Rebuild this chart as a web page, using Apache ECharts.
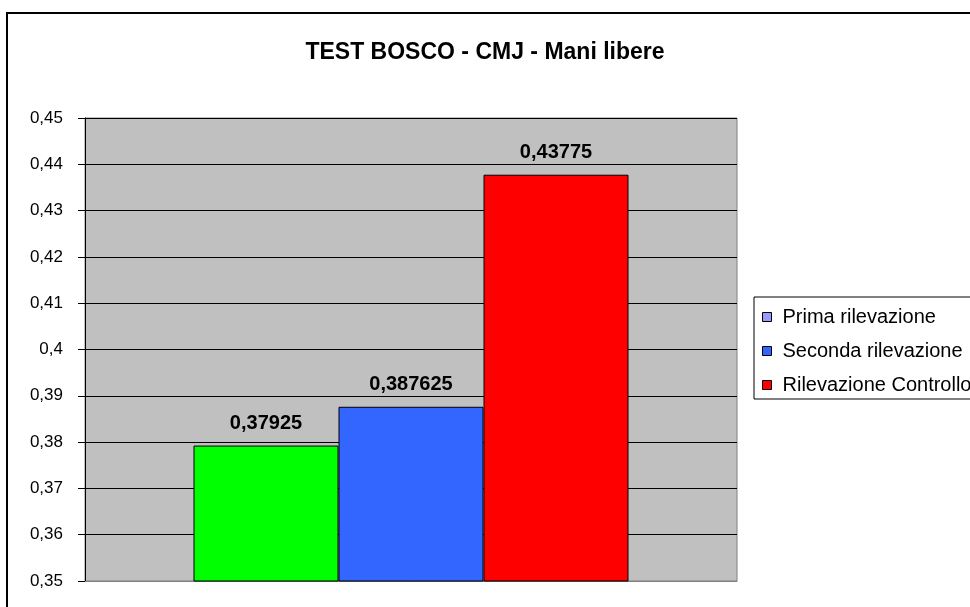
<!DOCTYPE html>
<html>
<head>
<meta charset="utf-8">
<script src="https://cdn.jsdelivr.net/npm/echarts@6/dist/echarts.min.js"></script>
<style>
  html, body { margin: 0; padding: 0; background: #fff; }
  #main { width: 970px; height: 607px; }
</style>
</head>
<body>
<div id="main"></div>
<script>
var categories = [''];
var seriesNames = ['Prima rilevazione', 'Seconda rilevazione', 'Rilevazione Controllo'];
var seriesValues = [[0.37925], [0.387625], [0.43775]];
var barColors = ['#00FF00', '#3366FF', '#FF0000'];
var legendColors = ['#9999FF', '#3366FF', '#FF0000'];

// numero con la virgola decimale
function comma(v) {
  return String(parseFloat(Number(v).toFixed(6))).replace('.', ',');
}

var myChart = echarts.init(document.getElementById('main'));

var series = seriesNames.map(function (name, i) {
  return {
    name: name,
    type: 'bar',
    data: seriesValues[i],
    barWidth: 145,
    barGap: '0%',
    itemStyle: { color: barColors[i], borderColor: '#000', borderWidth: 1 },
    label: {
      show: true,
      position: 'top',
      distance: 12,
      color: '#000',
      fontFamily: 'Liberation Sans, Arial',
      fontWeight: 'bold',
      fontSize: 20,
      formatter: function (p) { return comma(p.value); }
    }
  };
});

var option = {
  animation: false,
  title: {
    text: 'TEST BOSCO - CMJ - Mani libere',
    left: 'center',
    top: 36,
    textStyle: { fontFamily: 'Liberation Sans, Arial', fontWeight: 'bold', fontSize: 23, color: '#000' }
  },
  legend: {
    orient: 'vertical',
    left: 754,
    top: 297,
    padding: [10, 40, 4, 8],
    itemWidth: 9,
    itemHeight: 9,
    itemGap: 14,
    icon: 'rect',
    borderColor: '#000',
    borderWidth: 1,
    textStyle: { fontFamily: 'Liberation Sans, Arial', fontSize: 20, color: '#000', padding: [0, 0, 0, 6] },
    data: seriesNames.map(function (n, i) {
      return { name: n, itemStyle: { color: legendColors[i], borderColor: '#000', borderWidth: 1 } };
    })
  },
  graphic: [{
    type: 'rect',
    shape: { x: 7, y: 13, width: 1000, height: 700 },
    style: { fill: 'none', stroke: '#000', lineWidth: 2 },
    silent: true
  }],
  grid: {
    left: 85,
    top: 118,
    right: 233,
    bottom: 26,
    show: true,
    backgroundColor: '#C0C0C0',
    borderColor: '#808080',
    borderWidth: 1
  },
  xAxis: {
    type: 'category',
    data: categories,
    axisLine: { show: true, lineStyle: { color: '#808080' } },
    axisTick: { show: false },
    axisLabel: { show: false }
  },
  yAxis: {
    type: 'value',
    min: 0.35,
    max: 0.45,
    interval: 0.01,
    axisLine: { show: true, lineStyle: { color: '#000' } },
    axisTick: { show: true, length: 7, lineStyle: { color: '#000' } },
    splitLine: { show: true, lineStyle: { color: '#000', width: 1 } },
    axisLabel: {
      color: '#000',
      fontFamily: 'Liberation Sans, Arial',
      fontSize: 17,
      margin: 22,
      formatter: function (v) { return comma(v); }
    }
  },
  series: series
};

myChart.setOption(option);
</script>
</body>
</html>
